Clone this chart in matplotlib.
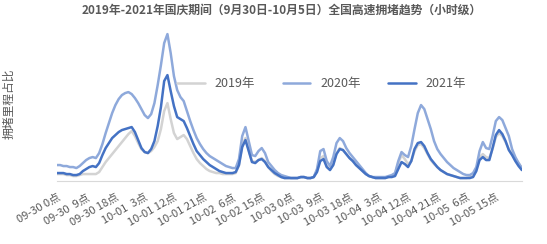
import matplotlib
matplotlib.use('Agg')
import matplotlib.pyplot as plt
import numpy as np

plt.rcParams['font.family'] = ['Noto Sans CJK SC', 'DejaVu Sans']

# hourly congestion share, 09-30 0点 .. 10-05 23点 (144 hours), relative units
y2019 = [7, 7, 7, 6, 6, 5, 5, 6, 7, 7, 7, 7, 7, 9, 14, 19, 23, 27, 31, 35, 39, 43, 47, 50,
         45, 38, 32, 29, 28, 30, 34, 40, 52, 70, 78, 62, 48, 42, 44, 46, 42, 35, 28, 22, 18, 15, 12, 10,
         9, 8, 8, 7, 7, 7, 7, 8, 16, 36, 43, 31, 20, 19, 21, 23, 20, 14, 10, 7, 5, 4, 3, 3,
         3, 3, 3, 4, 4, 3, 3, 4, 10, 23, 25, 15, 12, 17, 28, 33, 31, 27, 23, 20, 16, 13, 10, 7,
         5, 4, 3, 3, 3, 3, 4, 5, 7, 18, 26, 22, 17, 20, 30, 36, 37, 33, 27, 21, 17, 14, 11, 9,
         7, 6, 5, 4, 3, 3, 3, 4, 5, 12, 24, 27, 24, 23, 32, 44, 48, 45, 39, 32, 27, 22, 18, 13]
y2020 = [16, 16, 15, 15, 14, 14, 13, 15, 18, 21, 23, 24, 23, 28, 37, 48, 58, 68, 76, 82, 86, 88, 89, 87,
         83, 78, 72, 66, 63, 67, 78, 96, 116, 138, 147, 128, 105, 91, 84, 80, 70, 60, 51, 43, 37, 32, 28, 25,
         23, 21, 19, 17, 15, 14, 13, 13, 22, 45, 54, 40, 26, 25, 30, 33, 28, 19, 15, 11, 8, 6, 5, 4,
         3, 3, 3, 4, 4, 3, 3, 4, 12, 30, 32, 20, 15, 24, 38, 43, 40, 33, 28, 24, 20, 16, 12, 8,
         5, 4, 4, 4, 4, 4, 5, 6, 8, 20, 29, 26, 24, 35, 52, 68, 76, 72, 62, 52, 40, 32, 27, 23,
         19, 16, 13, 11, 9, 7, 6, 6, 8, 14, 30, 39, 33, 32, 45, 60, 64, 61, 53, 45, 32, 24, 18, 13]
y2021 = [8, 8, 8, 7, 7, 6, 6, 7, 10, 12, 14, 15, 14, 18, 26, 33, 38, 43, 46, 49, 51, 52, 53, 54,
         49, 41, 33, 29, 28, 32, 40, 55, 74, 100, 106, 90, 75, 64, 62, 60, 53, 45, 37, 30, 26, 22, 19, 16,
         14, 12, 10, 9, 8, 8, 8, 9, 16, 34, 41, 30, 19, 18, 21, 22, 19, 14, 11, 8, 6, 4, 3, 3,
         3, 3, 3, 4, 4, 3, 3, 4, 9, 20, 22, 14, 11, 16, 27, 32, 31, 27, 23, 20, 16, 13, 10, 7,
         5, 4, 3, 3, 3, 3, 4, 4, 5, 12, 19, 17, 14, 20, 32, 38, 39, 35, 28, 22, 18, 14, 11, 9,
         7, 6, 5, 4, 3, 3, 3, 3, 4, 10, 21, 24, 21, 21, 33, 46, 51, 47, 40, 31, 26, 20, 15, 11]

tick_pos = [0, 9, 18, 27, 36, 45, 54, 63, 72, 81, 90, 99, 108, 117, 126, 135]
tick_labels = ['09-30 0点', '09-30  9点', '09-30 18点', '10-01  3点', '10-01 12点', '10-01 21点',
               '10-02  6点', '10-02 15点', '10-03 0点', '10-03  9点', '10-03 18点', '10-04  3点',
               '10-04 12点', '10-04 21点', '10-05  6点', '10-05 15点']

fig = plt.figure(figsize=(5.47, 2.44), dpi=100)
ax = fig.add_axes([0.104, 0.258, 0.850, 0.635])

x = np.arange(len(y2021))
ax.plot(x, y2019, color='#d3d3d3', lw=1.8, label='2019年', solid_capstyle='round')
ax.plot(x, y2020, color='#8ea9db', lw=1.8, label='2020年', solid_capstyle='round')
ax.plot(x, y2021, color='#4472c4', lw=1.8, label='2021年', solid_capstyle='round')

ax.set_xlim(0, 143)
ax.set_ylim(0, 155)
ax.set_yticks([])
ax.set_xticks(tick_pos)
ax.set_xticklabels(tick_labels, rotation=30, ha='right', rotation_mode='anchor',
                   fontsize=8, color='#595959')
ax.tick_params(axis='x', length=0, pad=8)
for s in ['top', 'right', 'left']:
    ax.spines[s].set_visible(False)
ax.spines['bottom'].set_color('#d9d9d9')

ax.set_ylabel('拥堵里程占比', fontsize=8.5, color='#595959')
ax.yaxis.set_label_coords(-0.09, 0.5)
fig.suptitle('2019年-2021年国庆期间（9月30日-10月5日）全国高速拥堵趋势（小时级）',
             fontsize=8.5, fontweight='bold', color='#595959', x=0.515, y=0.985)

ax.legend(loc='center', bbox_to_anchor=(0.57, 0.63), ncol=3, frameon=False,
          fontsize=9, handlelength=2.2, columnspacing=2.2, labelcolor='#595959')

fig.savefig('out.png', dpi=100)
